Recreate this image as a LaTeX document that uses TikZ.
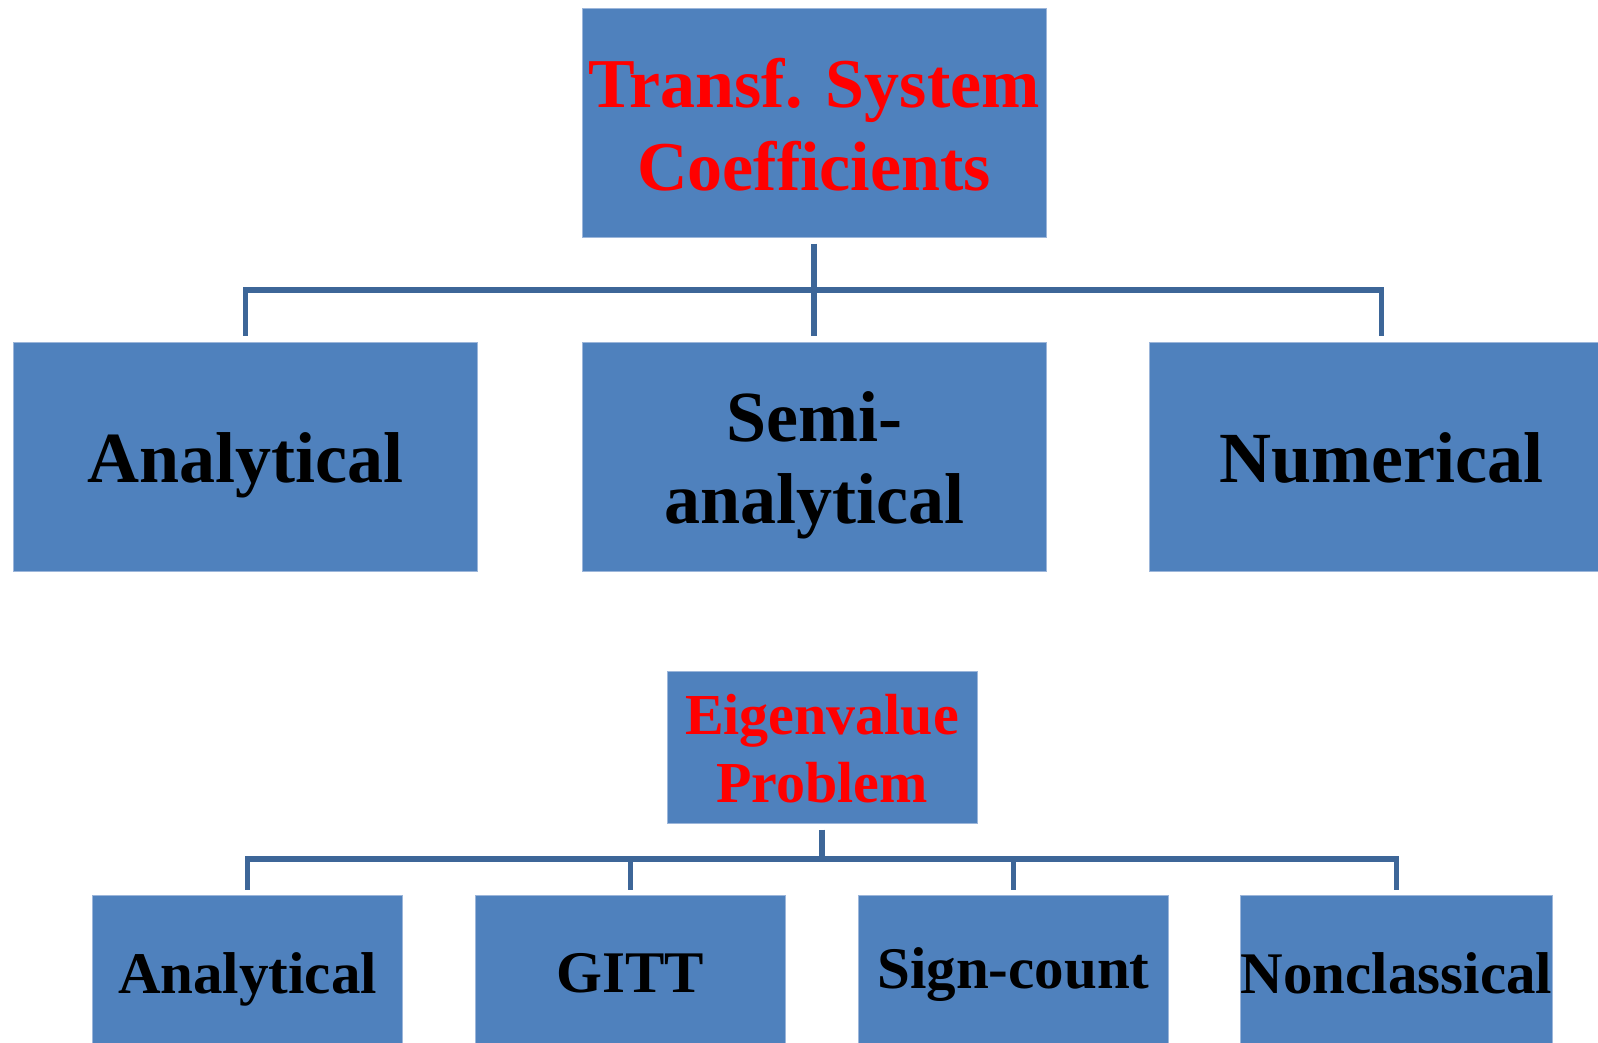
\documentclass[tikz,border=0pt]{standalone}
\usepackage{fontspec}
\setmainfont{Liberation Serif}
\definecolor{boxfill}{HTML}{4F81BD}
\definecolor{boxline}{HTML}{9CB6DA}
\definecolor{connline}{HTML}{3D6698}
\definecolor{titlered}{HTML}{FF0000}
\tikzset{
  box/.style={rectangle, fill=boxfill, draw=boxline, line width=1pt,
    inner sep=0pt, align=center, font=\bfseries},
  bigbox/.style={box, minimum width=464pt, minimum height=229pt},
  smallbox/.style={box, minimum width=310pt, minimum height=152pt},
  conn/.style={draw=connline, line width=5.5pt, line join=miter},
}
\begin{document}
\begin{tikzpicture}[x=1pt, y=-1pt]
  \useasboundingbox (0,0) rectangle (1598,1042);
  \clip (0,0) rectangle (1598,1042);

  % upper tree: transformed system coefficients
  \node[bigbox, text height=135pt, text depth=0pt,
        text=titlered, font=\bfseries\fontsize{70}{83}\selectfont]
    (trans) at (814,122.5) {Transf. System\\Coefficients};
  \node[bigbox, text height=51pt, text depth=0pt,
        font=\bfseries\fontsize{72}{82}\selectfont]
    (ana1) at (245.5,456.5) {Analytical};
  \node[bigbox, text height=133pt, text depth=0pt,
        font=\bfseries\fontsize{72}{82}\selectfont]
    (semi) at (814,456.5) {Semi-\\analytical};
  \node[bigbox, text height=51pt, text depth=0pt,
        font=\bfseries\fontsize{72}{82}\selectfont]
    (num) at (1381.5,456.5) {Numerical};

  \coordinate (bus1) at (814,290);
  \draw[conn] ([yshift=6pt]ana1.north) |- (bus1) -| ([yshift=6pt]num.north);
  \draw[conn] ([yshift=-6pt]trans.south) -- ([yshift=6pt]semi.north);

  % lower tree: eigenvalue problem
  \node[smallbox, text height=110pt, text depth=0pt, text=titlered,
        font=\bfseries\fontsize{58}{68}\selectfont]
    (eig) at (822,747) {Eigenvalue\\Problem};
  \node[smallbox, text height=44pt, text depth=0pt,
        font=\bfseries\fontsize{59}{68}\selectfont]
    (ana2) at (247.5,971) {Analytical};
  \node[smallbox, text height=42pt, text depth=0pt,
        font=\bfseries\fontsize{59}{68}\selectfont]
    (gitt) at (630.5,971) {GITT};
  \node[smallbox, text height=44pt, text depth=10pt,
        font=\bfseries\fontsize{59}{68}\selectfont]
    (sign) at (1013.5,971) {Sign-count};
  \node[smallbox, text height=44pt, text depth=0pt,
        font=\bfseries\fontsize{59}{68}\selectfont]
    (noncl) at (1396.5,971) {Nonclassical};

  \coordinate (bus2) at (822,859);
  \draw[conn] ([yshift=5pt]ana2.north) |- (bus2) -| ([yshift=5pt]noncl.north);
  \draw[conn] ([yshift=5pt]gitt.north) |- (bus2);
  \draw[conn] ([yshift=5pt]sign.north) |- (bus2);
  \draw[conn] ([yshift=-6pt]eig.south) -- (bus2);
\end{tikzpicture}
\end{document}
